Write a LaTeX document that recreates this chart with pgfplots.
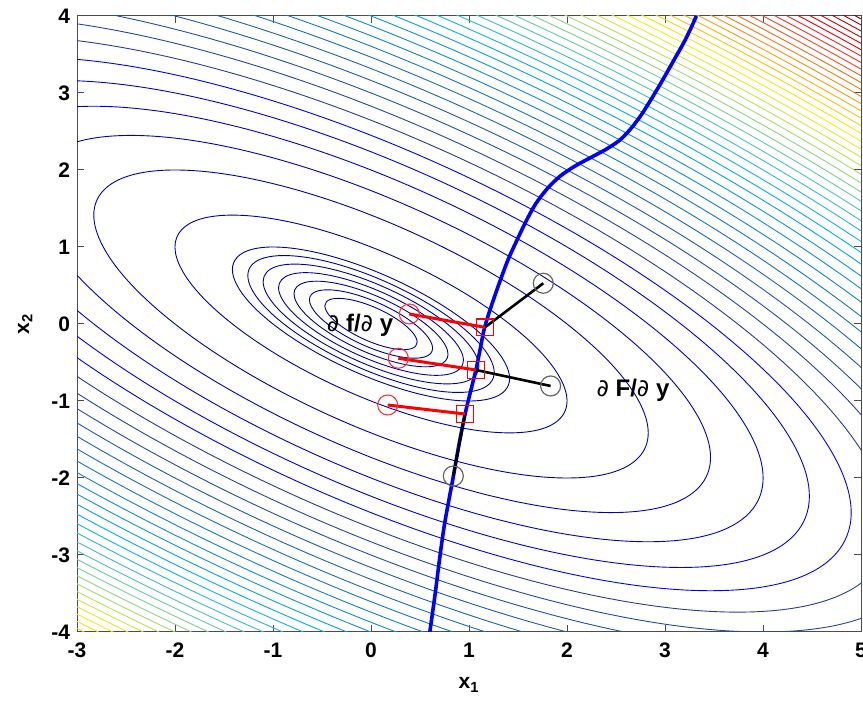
\documentclass[border=0pt]{standalone}
\usepackage{pgfplots}
\pgfplotsset{compat=1.18}
\usepackage{fontspec}
\setmainfont{Liberation Sans}
\newfontfamily\dv{DejaVu Sans}
\pgfplotsset{ct/.style={line width=0.45pt, smooth cycle, tension=0.636}}
% one contour level: a=r, b=0.366r, h=0.5r, s=0.866r, g=1.366r (ellipse (x+y)^2+y^2=r^2)
\newcommand{\ring}[6]{\addplot[ct,draw=#6] coordinates {(#1,0) (#2,#3) (-#2,#4) (-#1,#1) (-#5,#4) (-#5,#3) (-#1,0) (-#2,-#3) (#2,-#4) (#1,-#1) (#5,-#4) (#5,-#3)};}
\begin{document}
\begin{tikzpicture}
\useasboundingbox (0,0) rectangle (431.5pt,351pt);
\begin{axis}[at={(38.5pt,35pt)}, anchor=south west, scale only axis,
  width=392pt, height=308pt,
  xmin=-3, xmax=5, ymin=-4, ymax=4, enlargelimits=false,
  xtick={-3,...,5}, ytick={-4,...,4},
  xticklabels={-3,-2,-1,0,1,2,3,4,5},
  yticklabels={-4,-3,-2,-1,0,1,2,3,4},
  tick align=inside, major tick length=3.5pt,
  axis line style={black!70, line width=0.5pt},
  tick style={black!70, line width=0.5pt},
  ticklabel style={font=\fontsize{10.5}{12}\selectfont\bfseries},
  xticklabel style={yshift=-2pt},
  xlabel={x\textsubscript{1}}, ylabel={x\textsubscript{2}},
  label style={font=\fontsize{10.5}{12}\selectfont\bfseries},
  xlabel style={at={(axis description cs:0.5,-0.086)}, anchor=center},
  ylabel style={at={(axis description cs:-0.066,0.5)}, anchor=center},
  clip=true]
% inner levels
\ring{0.333}{0.122}{0.167}{0.289}{0.455}{blue!62!black}
\ring{0.444}{0.163}{0.222}{0.385}{0.607}{blue!62!black}
\ring{0.556}{0.203}{0.278}{0.481}{0.759}{blue!62!black}
\ring{0.667}{0.244}{0.333}{0.577}{0.911}{blue!62!black}
\ring{0.778}{0.285}{0.389}{0.674}{1.063}{blue!62!black}
\ring{0.889}{0.325}{0.444}{0.770}{1.214}{blue!62!black}
\ring{1}{0.366}{0.5}{0.866}{1.366}{blue!62!black}
% outer levels 2,4,...,96
\ring{1.414}{0.518}{0.707}{1.225}{1.932}{blue!64!black}
\ring{2}{0.732}{1}{1.732}{2.732}{blue!70!black}
\ring{2.449}{0.897}{1.225}{2.121}{3.346}{blue!77!black}
\ring{2.828}{1.035}{1.414}{2.449}{3.864}{blue!84!black}
\ring{3.162}{1.157}{1.581}{2.739}{4.320}{blue!91!black}
\ring{3.464}{1.268}{1.732}{3}{4.732}{blue}
\ring{3.742}{1.370}{1.871}{3.240}{5.111}{cyan!8!blue}
\ring{4}{1.464}{2}{3.464}{5.464}{cyan!16!blue}
\ring{4.243}{1.553}{2.121}{3.674}{5.796}{cyan!24!blue}
\ring{4.472}{1.637}{2.236}{3.873}{6.109}{cyan!33!blue}
\ring{4.690}{1.717}{2.345}{4.062}{6.407}{cyan!41!blue}
\ring{4.899}{1.793}{2.449}{4.243}{6.692}{cyan!49!blue}
\ring{5.099}{1.866}{2.550}{4.416}{6.965}{cyan!57!blue}
\ring{5.292}{1.937}{2.646}{4.583}{7.228}{cyan!66!blue}
\ring{5.477}{2.005}{2.739}{4.743}{7.482}{cyan!74!blue}
\ring{5.657}{2.071}{2.828}{4.899}{7.727}{cyan!82!blue}
\ring{5.831}{2.134}{2.916}{5.050}{7.965}{cyan!90!blue}
\ring{6}{2.196}{3}{5.196}{8.196}{cyan}
\ring{6.164}{2.256}{3.082}{5.339}{8.421}{yellow!7!cyan}
\ring{6.325}{2.315}{3.162}{5.477}{8.640}{yellow!15!cyan}
\ring{6.481}{2.372}{3.240}{5.612}{8.853}{yellow!23!cyan}
\ring{6.633}{2.428}{3.317}{5.745}{9.061}{yellow!31!cyan}
\ring{6.782}{2.483}{3.391}{5.874}{9.265}{yellow!40!cyan}
\ring{6.928}{2.536}{3.464}{6}{9.464}{yellow!48!cyan}
\ring{7.071}{2.588}{3.536}{6.124}{9.659}{yellow!56!cyan}
\ring{7.211}{2.639}{3.606}{6.245}{9.851}{yellow!64!cyan}
\ring{7.348}{2.690}{3.674}{6.364}{10.038}{yellow!73!cyan}
\ring{7.483}{2.739}{3.742}{6.481}{10.222}{yellow!81!cyan}
\ring{7.616}{2.788}{3.808}{6.596}{10.403}{yellow!89!cyan}
\ring{7.746}{2.835}{3.873}{6.708}{10.581}{yellow!97!cyan}
\ring{7.874}{2.882}{3.937}{6.819}{10.756}{yellow!94!red}
\ring{8}{2.928}{4}{6.928}{10.928}{yellow!86!red}
\ring{8.124}{2.974}{4.062}{7.036}{11.098}{yellow!78!red}
\ring{8.246}{3.018}{4.123}{7.141}{11.265}{yellow!70!red}
\ring{8.367}{3.062}{4.183}{7.246}{11.429}{yellow!61!red}
\ring{8.485}{3.106}{4.243}{7.348}{11.591}{yellow!53!red}
\ring{8.602}{3.149}{4.301}{7.450}{11.751}{yellow!45!red}
\ring{8.718}{3.191}{4.359}{7.550}{11.909}{yellow!37!red}
\ring{8.832}{3.233}{4.416}{7.649}{12.065}{yellow!28!red}
\ring{8.944}{3.274}{4.472}{7.746}{12.218}{yellow!20!red}
\ring{9.055}{3.315}{4.528}{7.842}{12.370}{yellow!12!red}
\ring{9.165}{3.355}{4.583}{7.937}{12.520}{yellow!4!red}
\ring{9.274}{3.394}{4.637}{8.031}{12.668}{red!95!black}
\ring{9.381}{3.434}{4.690}{8.124}{12.814}{red!87!black}
\ring{9.487}{3.472}{4.743}{8.216}{12.959}{red!79!black}
\ring{9.592}{3.511}{4.796}{8.307}{13.103}{red!71!black}
\ring{9.695}{3.549}{4.848}{8.397}{13.244}{red!62!black}
\ring{9.798}{3.586}{4.899}{8.485}{13.384}{red!54!black}
% lower-level solution curve
\addplot[blue, line width=1.8pt, smooth] coordinates {
(0.60,-4.0) (0.655,-3.5) (0.705,-3.0) (0.75,-2.6) (0.80,-2.25) (0.84,-1.98)
(0.90,-1.55) (0.96,-1.17) (1.015,-0.88) (1.07,-0.60) (1.115,-0.32) (1.16,-0.04)
(1.24,0.28) (1.32,0.57) (1.40,0.84) (1.49,1.09) (1.58,1.33) (1.68,1.56)
(1.80,1.76) (1.93,1.92) (2.08,2.05) (2.24,2.16) (2.40,2.27) (2.54,2.39)
(2.66,2.55) (2.76,2.72) (2.85,2.90) (2.94,3.09) (3.03,3.29) (3.11,3.47)
(3.19,3.65) (3.26,3.83) (3.32,4.0)};
% black segments
\addplot[black, line width=1.3pt] coordinates {(1.163,-0.043) (1.758,0.529)};
\addplot[black, line width=1.3pt] coordinates {(1.071,-0.597) (1.833,-0.805)};
\addplot[black, line width=1.3pt] coordinates {(0.840,-1.974) (0.959,-1.169)};
% red segments
\addplot[red, line width=1.5pt] coordinates {(0.391,0.130) (1.163,-0.043)};
\addplot[red, line width=1.5pt] coordinates {(0.279,-0.445) (1.071,-0.597)};
\addplot[red, line width=1.5pt] coordinates {(0.170,-1.052) (0.959,-1.169)};
% markers
\addplot[only marks, mark=o, mark size=5pt, mark options={draw=black!60, line width=0.6pt}]
  coordinates {(1.758,0.529) (1.833,-0.805) (0.840,-1.974)};
\addplot[only marks, mark=o, mark size=5pt, mark options={draw=red!80, line width=0.55pt}]
  coordinates {(0.391,0.130) (0.279,-0.445) (0.170,-1.052)};
\addplot[only marks, mark=square, mark size=4.2pt, mark options={draw=red, line width=0.65pt}]
  coordinates {(1.163,-0.043) (1.071,-0.597) (0.959,-1.169)};
\node[font=\fontsize{12}{14}\selectfont] at (axis cs:-0.112,-0.013) {{\dv ∂} \textbf{f/}{\dv ∂} \textbf{y}};
\node[font=\fontsize{12}{14}\selectfont] at (axis cs:2.673,-0.857) {{\dv ∂} \textbf{F/}{\dv ∂} \textbf{y}};
\end{axis}
\end{tikzpicture}
\end{document}
